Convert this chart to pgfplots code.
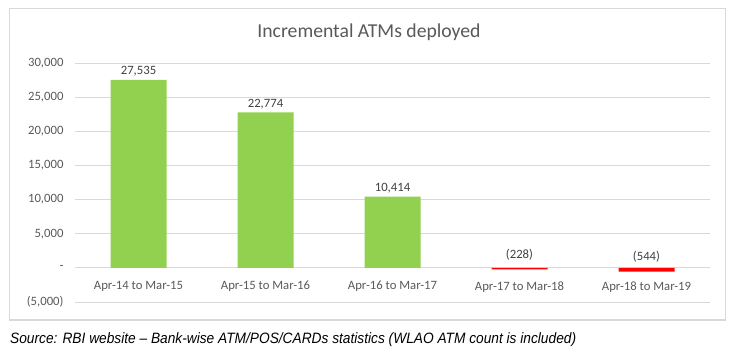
\documentclass[border=0pt]{standalone}
\usepackage{fontspec}
\setmainfont{Carlito}
\newfontfamily\srcfont[FakeStretch=0.915]{Liberation Sans}
\usepackage{pgfplots}
\pgfplotsset{compat=1.18}
\definecolor{barg}{HTML}{92D050}
\definecolor{barr}{HTML}{FF0000}
\definecolor{gridc}{HTML}{D9D9D9}
\definecolor{tickc}{HTML}{595959}
\definecolor{labc}{HTML}{404040}
\begin{document}
\begin{tikzpicture}[x=1pt,y=1pt]
\path (0,0) rectangle (733,352);
\draw[gridc, line width=1.5pt] (9.5,32) rectangle (725.5,343.5);
\node[text=tickc, font=\fontsize{19.7}{23}\selectfont] at (369,320) {Incremental ATMs deployed};
\node[anchor=west, font=\srcfont\itshape\fontsize{15}{17}\selectfont, inner sep=0pt] at (10,12.5) {Source: RBI website – Bank-wise ATM/POS/CARDs statistics (WLAO ATM count is included)};
\begin{axis}[
  at={(75pt,50pt)}, anchor=south west,
  scale only axis, width=635pt, height=239pt,
  xmin=-0.5, xmax=4.5, ymin=-5000, ymax=30000,
  scaled y ticks=false,
  axis x line*=middle, axis y line*=left,
  x axis line style={draw=gridc, line width=0.8pt},
  y axis line style={draw=none},
  major tick length=0pt,
  xtick={0,1,2,3,4},
  xticklabels={Apr-14 to Mar-15, Apr-15 to Mar-16, Apr-16 to Mar-17, Apr-17 to Mar-18, Apr-18 to Mar-19},
  ytick={-5000,0,5000,10000,15000,20000,25000,30000},
  yticklabels={(5{,}000),-,{5,000},{10,000},{15,000},{20,000},{25,000},{30,000}},
  /pgf/number format/assume math mode=true,
  tick label style={text=tickc, font=\fontsize{12.7}{15}\selectfont},
  xticklabel style={yshift=-10pt},
  yticklabel style={xshift=-8pt},
  ymajorgrids, grid style={gridc, line width=0.8pt},
  ybar, bar width=56pt, bar shift=0pt,
  nodes near coords={\pgfplotspointmeta},
  point meta=explicit symbolic,
  every node near coord/.append style={text=labc, font=\fontsize{12.7}{15}\selectfont},
  clip=false,
]
\addplot[fill=barg, draw=none, nodes near coords align={anchor=south}] table[meta=label] {
x y label
0 27535 {27,535}
1 22774 {22,774}
2 10414 {10,414}
};
\addplot[fill=barr, draw=none, every node near coord/.append style={anchor=south, yshift=6pt}] table[meta=label] {
x y label
3 -228 (228)
4 -544 (544)
};
\end{axis}
\end{tikzpicture}
\end{document}
